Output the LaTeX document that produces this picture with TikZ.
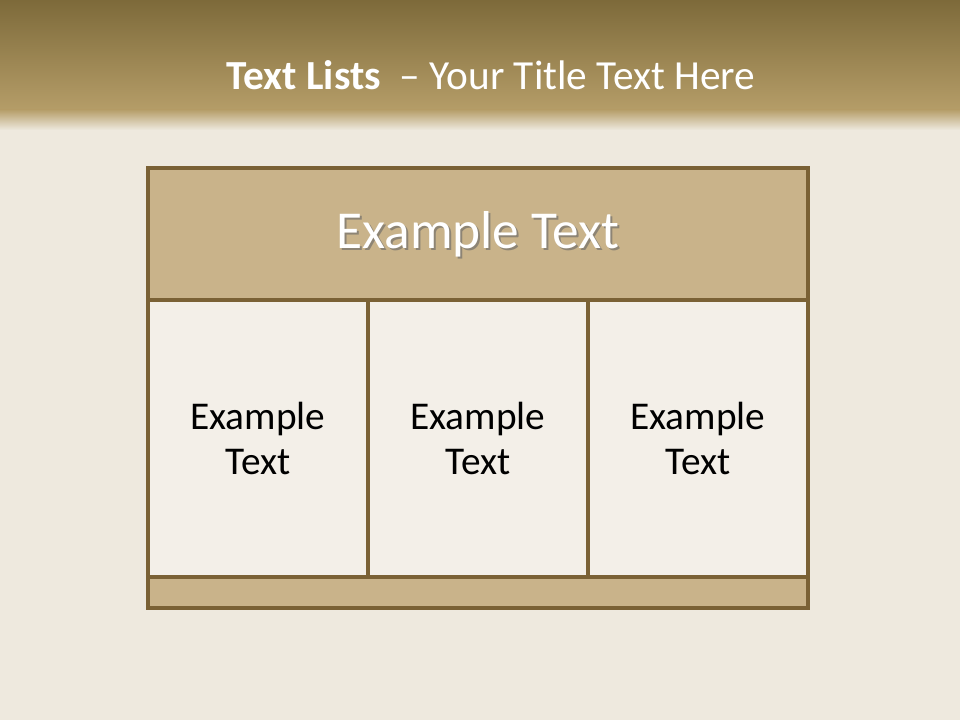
\documentclass[tikz,border=0pt]{standalone}
\usepackage{fontspec}
\setmainfont{Carlito}
\definecolor{bgc}{HTML}{EEE9DE}
\definecolor{hdtop}{HTML}{7D6A3A}
\definecolor{hdbot}{HTML}{B59D68}
\definecolor{bordc}{HTML}{7A6135}
\definecolor{headfill}{HTML}{C9B38A}
\definecolor{cellfill}{HTML}{F3EFE8}
\begin{document}
\begin{tikzpicture}[x=0.75pt,y=-0.75pt,
  box/.style={draw=bordc,line width=2.5pt,inner sep=0pt,outer sep=0pt,anchor=north west},
  cellbox/.style={box,fill=cellfill,minimum width=220*0.75pt,minimum height=277*0.75pt},
  celltext/.style={align=center,font=\fontsize{29.5}{34}\selectfont,text=black}]
\useasboundingbox (0,0) rectangle (960,720);
\fill[bgc] (0,0) rectangle (960,720);
\shade[top color=hdtop,bottom color=hdbot] (0,0) rectangle (960,110);
\shade[top color=hdbot,bottom color=bgc] (0,109.5) rectangle (960,130);
\node[text=white,font=\fontsize{31}{35}\selectfont] (title) at (491,75) {\textbf{Text Lists}\ \ – Your Title Text Here};
% table
\node[box,fill=headfill,minimum width=660*0.75pt,minimum height=132*0.75pt] (hdr) at (148,168) {};
\node[cellbox] (c1) at (148,300) {};
\node[cellbox] (c2) at (368,300) {};
\node[cellbox] (c3) at (588,300) {};
\node[box,fill=headfill,minimum width=660*0.75pt,minimum height=31*0.75pt] (ftr) at (148,577) {};
\node[text=black!60,opacity=0.6,font=\fontsize{40}{44}\selectfont] at ([xshift=1.5pt,yshift=-1.5pt]hdr.center) {Example Text};
\node[text=white,font=\fontsize{40}{44}\selectfont] (hdrtext) at (hdr.center) {Example Text};
\node[celltext] (t1) at (c1.center) {Example\\Text};
\node[celltext] (t2) at (c2.center) {Example\\Text};
\node[celltext] (t3) at (c3.center) {Example\\Text};
\end{tikzpicture}
\end{document}
